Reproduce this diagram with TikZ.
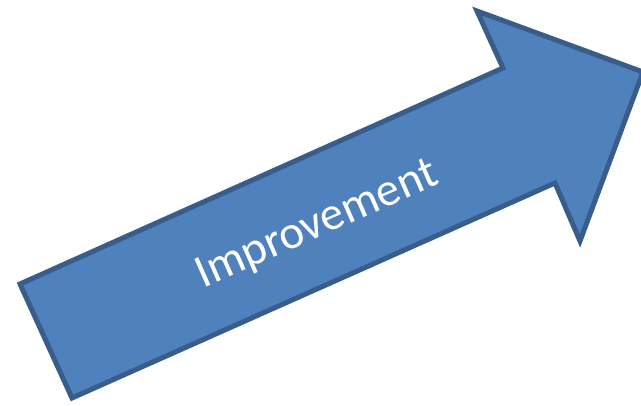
\documentclass[tikz,border=0pt]{standalone}
\usepackage{fontspec}
\setmainfont{Carlito}
\definecolor{arrowfill}{HTML}{4F81BD}
\definecolor{arrowline}{HTML}{385D8A}
\tikzset{bigarrow/.style={fill=arrowfill,draw=arrowline,line width=5pt,line join=miter},
  arrowtext/.style={text=white,font=\fontsize{47}{56}\selectfont,anchor=base,inner sep=0pt}}
\begin{document}
\begin{tikzpicture}[x=1pt,y=-1pt]
\useasboundingbox (0,0) rectangle (641,406);
\clip (0,0) rectangle (641,406);
\draw[bigarrow] (20,284) -- (503,68) -- (477,11) -- (643,72) -- (580,241) -- (555,183) -- (72,398) -- cycle;
\node[arrowtext,rotate=23.8] (lbl) at (322,236) {Improvement};
\end{tikzpicture}
\end{document}
